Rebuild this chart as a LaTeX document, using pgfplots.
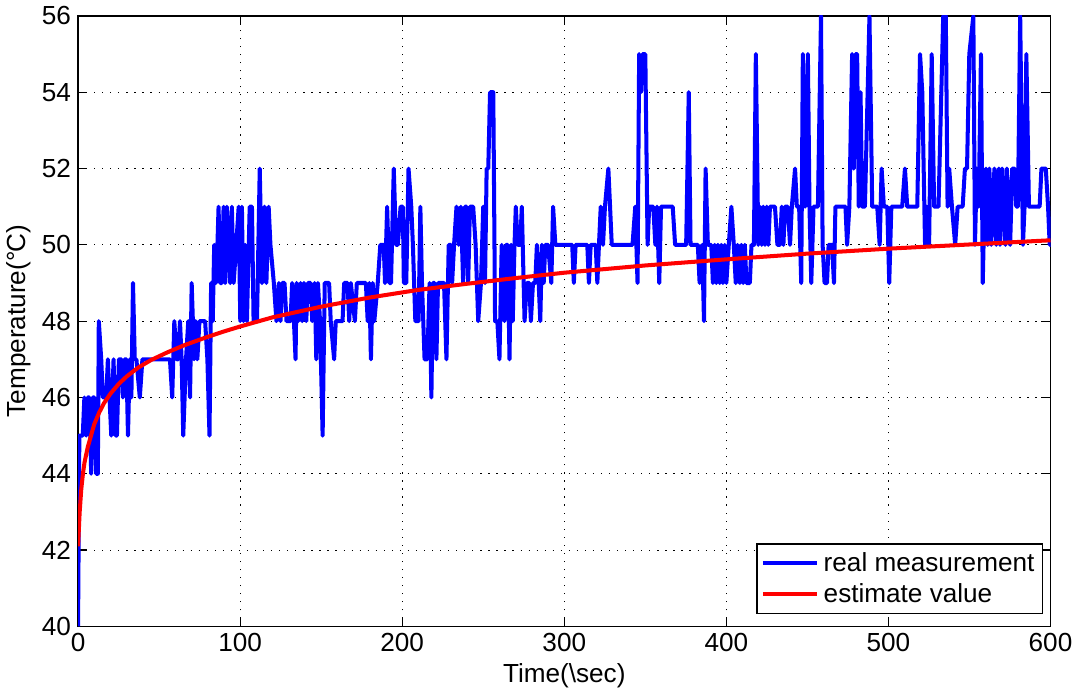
\documentclass[border=0pt]{standalone}
\usepackage{fontspec}
\setmainfont{Liberation Sans}
\usepackage{pgfplots}
\pgfplotsset{compat=1.18}
\begin{document}
\begin{tikzpicture}
\begin{axis}[
  scale only axis, width=483.5pt, height=303.5pt,
  xmin=0, xmax=600, ymin=40, ymax=56,
  xtick={0,100,...,600}, ytick={40,42,...,56},
  tick align=inside, major tick length=4.5pt,
  grid=major,
  grid style={black, line width=0.5pt, dash pattern=on 0.6pt off 3.4pt},
  axis line style={line width=0.6pt},
  every tick/.style={black, line width=0.6pt},
  tick label style={font=\fontsize{13}{15}\selectfont},
  /pgf/number format/assume math mode=true,
  xlabel={Time(\textbackslash sec)},
  ylabel={Temperature(°\kern-0.05em C)},
  ylabel shift=-1.5pt,
  xlabel shift=-1pt,
  label style={font=\fontsize{13}{15}\selectfont},
  legend style={at={(0.9928,0.0198)}, anchor=south east, draw=black, line width=0.6pt,
    font=\fontsize{13}{15}\selectfont, inner xsep=2pt, inner ysep=2pt,
    nodes={inner sep=2.2pt}},
  legend cell align=left,
  legend image code/.code={\draw[#1] (0pt,0pt) -- (27pt,0pt);},
]
\addplot[blue, line width=2pt, line join=round] coordinates {
(0,40) (0.8,45) (2.9,45) (3.9,46) (5,45) (6,46) (7,46) (8.1,44) (9.1,46) (10.1,46) (11.2,44) (12.2,44) (12.8,48) (14.3,47) (15.3,46) (17.4,46) (18.4,47) (19.4,46) (20.5,45) (21.9,47) (23.2,45) (24,45) (25.2,47) (26.7,47) (27.7,46) (28.7,47) (29.8,47) (30.8,45) (31.9,47) (32.9,46) (33.9,49) (35,47) (36,47) (38.1,46) (39.7,47) (56.7,47) (58.1,46) (59.4,48) (60.8,47) (61.8,47) (62.9,48) (63.9,47) (64.9,45) (66.6,47) (68,48) (69.1,46) (70.1,49) (71.6,47) (72.6,48) (73.6,47) (74.9,48) (78.4,48) (79.8,47) (81.1,45) (82.1,49) (83.1,48) (84,50) (85,49) (86,50) (86.7,51) (87.7,49) (88.7,49) (89.8,51) (90.8,49) (91.8,51) (93.9,49) (94.9,51) (96,49) (97.6,50)
(99.1,51) (100.1,48) (101.1,51) (102.1,48) (103.2,50) (104.2,48) (105.9,51) (107.3,51) (108.3,48) (110.4,48) (112.1,52) (113.5,49) (115,51) (116.2,49) (117.6,51) (118.7,50) (120.8,49) (122.4,48) (123.9,49) (124.9,48) (125.9,49) (127.4,49) (128.6,48) (131.1,48) (132.1,49) (133.2,48) (134.2,47) (134.8,49) (135.8,48) (137.3,49) (138.3,48) (139.4,49) (140.8,48) (141.8,49) (143.5,49) (144.5,48) (146,49) (147,47) (148,49) (149.3,48) (150.9,45) (152.2,49) (154.9,49) (155.9,48) (158,47) (159,48) (163.2,48) (164.2,49) (166.3,49) (167.3,48) (168.3,49) (170.8,48) (172,49) (177.6,49) (178.7,48) (179.7,49) (180.7,47) (181.8,49) (182.8,48) (184.9,49) (186.5,50) (188.6,50) (189.4,49) (190.7,51) (192.1,49) (193.1,49) (194.8,52) (196.2,50)
(197.3,50) (199,51) (200.4,51) (201,49) (202.5,49) (203.9,52) (205.6,51) (206.6,50) (208.1,48) (210.1,48) (211.2,51) (212.2,49) (213.8,47) (215.5,47) (216.9,49) (218,46) (219,49) (220,49) (221.1,47) (222.1,49) (224.2,49) (225.8,49) (227.3,47) (228.7,50) (230,50) (230.8,49) (232,50) (233.5,51) (234.9,50) (236.2,51) (237.6,49) (238.7,51) (239.7,51) (240.7,49) (241.8,51) (243.8,51) (245.3,50) (246.9,48) (248.6,49) (250,51) (251.1,49) (252.1,52) (253.1,52) (254.2,54) (256.2,54) (257.3,48) (258.7,48) (260,47) (261.4,50) (263.1,48) (264.1,50) (265.1,50) (266.2,47) (267.2,50) (268.2,48) (269.3,50) (270.1,51) (271.3,50) (272.8,50) (273.8,51) (275.5,48) (276.9,49) (278.4,49) (279.4,48) (280.7,49) (282.1,49) (283.1,50) (284.2,49) (285.2,48) (286.2,50) (287.3,49) (288.3,50) (290,50) (292,49) (293.1,51) (294.5,50)
(296.6,50) (304.9,50) (305.9,49) (307,50) (314.2,50) (315.2,49) (316.3,50) (319.4,50) (320.4,49) (321.4,50) (322.5,51) (323.9,50) (325.1,51) (327.2,52) (329.3,50) (342.1,50) (343.8,51) (345.2,49) (346.2,55) (347.3,54) (348.3,55) (350,55) (351.4,50) (352.4,51) (354.9,51) (356.2,50) (357.2,51) (358.6,49) (359.7,51) (366.9,51) (368.4,50) (375.2,50) (376.8,54) (377.9,50) (382.4,50) (383.5,49) (385.1,50) (386.2,48) (387.2,52) (388.6,50) (390.7,50) (391.7,49) (392.8,50) (393.8,49) (394.8,50) (395.9,49) (396.9,50) (397.9,49) (399,50)
(400,49) (401.5,50) (403.1,51) (404.6,50) (405.8,49) (406.9,50) (408.3,49) (409.3,50) (410.4,49) (411.4,50) (412.4,49) (414.5,49) (415.5,50) (417,50) (418.2,55) (419.7,50) (420.7,51) (421.8,50) (422.8,51) (423.8,50) (424.9,51) (425.9,50) (426.9,51) (430,51) (431.5,50) (433.1,50) (434.2,51) (435.2,50) (436.2,51) (437.9,51) (439.3,50) (440.4,51) (442.4,52) (443.5,51) (444.9,51) (446.2,49) (447.2,55) (448.6,51) (450.3,55) (451.3,51) (452.4,49) (453.8,51) (456.5,51) (458.4,56) (459.4,50) (460.6,49) (462.1,49) (463.1,50) (465.2,50) (466.4,49) (467.3,51) (473.5,51) (474.5,50) (475.9,51) (477.6,55) (478.6,52) (479.7,55) (480.7,55) (481.7,51) (482.8,54) (483.8,51) (485.5,51) (488.3,56) (490,51) (493.1,51) (494.6,50) (495.8,52) (497.2,51) (499.3,51)
(500.5,49) (501.8,51) (508.5,51) (510.2,52) (511.6,51) (517.8,51) (519.5,55) (520.9,54) (522.6,50) (523.6,51) (525.1,50) (526.7,55) (528.2,51) (530.9,51) (533.8,56) (535.4,56) (536.5,51) (537.5,52) (539.2,51) (541.2,50) (542.7,51) (545.8,51) (547.2,52) (548.5,52) (549.9,55) (552.4,56) (553.4,50) (554.5,52) (555.7,51) (557.1,55) (558.2,49) (559.2,51) (560.2,52) (561.3,50) (562.3,52) (563.4,50) (564.4,51) (565.4,52) (566.5,50) (568.1,52) (568.9,50) (570.2,52) (571,51) (572.2,50) (573.1,52) (574.3,51) (575.1,50) (576.4,52) (577.8,52) (578.9,51) (579.9,51) (581.3,56) (583,50) (584,51) (585.1,55) (586.7,51) (593.3,51) (594.4,52) (597.1,52) (598.5,51) (599.5,50) (600,50)
};
\addlegendentry{real measurement}
\addplot[red, line width=2pt, line join=round] coordinates {
(0,42.1) (1,43.0) (2,43.6) (3,44.0) (4,44.3) (6,44.7) (8,45.0) (10,45.3) (13,45.6) (16,45.85) (20,46.1) (25,46.35) (30,46.55) (37,46.78) (45,46.98) (55,47.18) (65,47.36) (78,47.56) (90,47.73) (100,47.86) (120,48.1) (150,48.38) (180,48.62) (210,48.82) (240,48.98) (270,49.13) (300,49.27) (350,49.46) (400,49.62) (450,49.77) (500,49.9) (550,50.01) (600,50.12)
};
\addlegendentry{estimate value}
\end{axis}
\end{tikzpicture}
\end{document}
